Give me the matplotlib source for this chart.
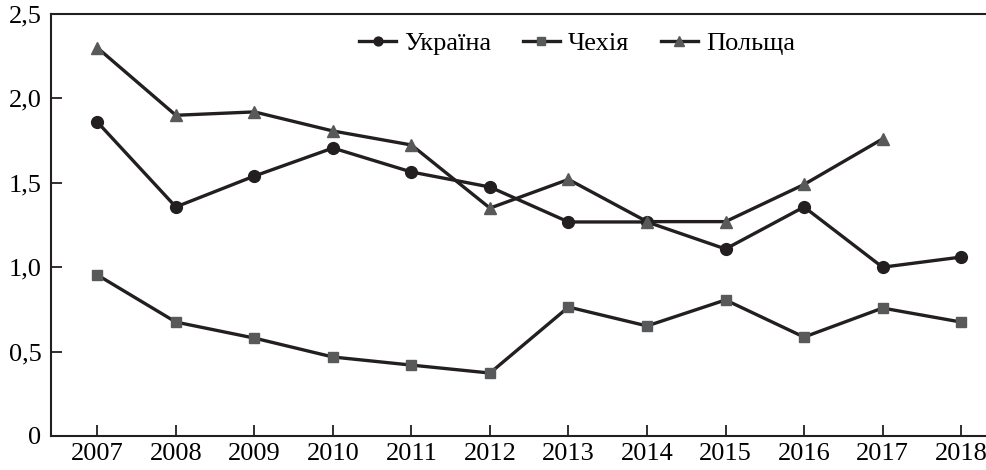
import matplotlib
matplotlib.use("Agg")
import matplotlib.pyplot as plt
import numpy as np

plt.rcParams['font.family'] = ['Liberation Serif', 'DejaVu Serif']

years = [2007, 2008, 2009, 2010, 2011, 2012, 2013, 2014, 2015, 2016, 2017, 2018]
ukraine = [1.86, 1.357, 1.54, 1.706, 1.564, 1.475, 1.268, 1.268, 1.108, 1.357, 1.0, 1.06]
czech = [0.954, 0.675, 0.58, 0.468, 0.42, 0.373, 0.764, 0.652, 0.806, 0.586, 0.758, 0.675]
poland = [2.30, 1.90, 1.92, 1.807, 1.724, 1.35, 1.52, 1.27, 1.27, 1.49, 1.76, np.nan]
labels = ['Україна', 'Чехія', 'Польща']
yticks = [0, 0.5, 1.0, 1.5, 2.0, 2.5]
ytick_labels = ['0', '0,5', '1,0', '1,5', '2,0', '2,5']

fig = plt.figure(figsize=(9.87, 4.70), dpi=100)
ax = fig.add_axes([51/987, 1-436/470, 1-51/987, (436-14)/470])

lc = '#231f20'
ax.plot(years, ukraine, color=lc, lw=2.4, marker='o', ms=8.5, mfc=lc, mec=lc, label=labels[0], zorder=3)
ax.plot(years, czech, color=lc, lw=2.4, marker='s', ms=7.5, mfc='#58595b', mec='#58595b', label=labels[1], zorder=3)
ax.plot(years, poland, color=lc, lw=2.4, marker='^', ms=9, mfc='#58595b', mec='#58595b', label=labels[2], zorder=3)

ax.set_xlim(2006.41, 2018.33)
ax.set_ylim(0, 2.5)
ax.set_xticks(years)
ax.set_xticklabels([str(y) for y in years], fontsize=19)
ax.set_yticks(yticks)
ax.set_yticklabels(ytick_labels, fontsize=19)
ax.tick_params(axis='both', direction='in', length=8, width=1.3, color='#231f20')
ax.tick_params(axis='x', pad=5)
ax.tick_params(axis='y', pad=7)
ax.spines['right'].set_visible(False)
for s in ['left', 'bottom', 'top']:
    ax.spines[s].set_linewidth(1.5)
    ax.spines[s].set_color('#231f20')

leg = ax.legend(loc='upper center', bbox_to_anchor=(0.562, 1.015), ncol=3, frameon=False,
                fontsize=19, handlelength=1.4, handletextpad=0.3, columnspacing=1.2,
                markerscale=0.75)

fig.savefig('out.png', dpi=100)
